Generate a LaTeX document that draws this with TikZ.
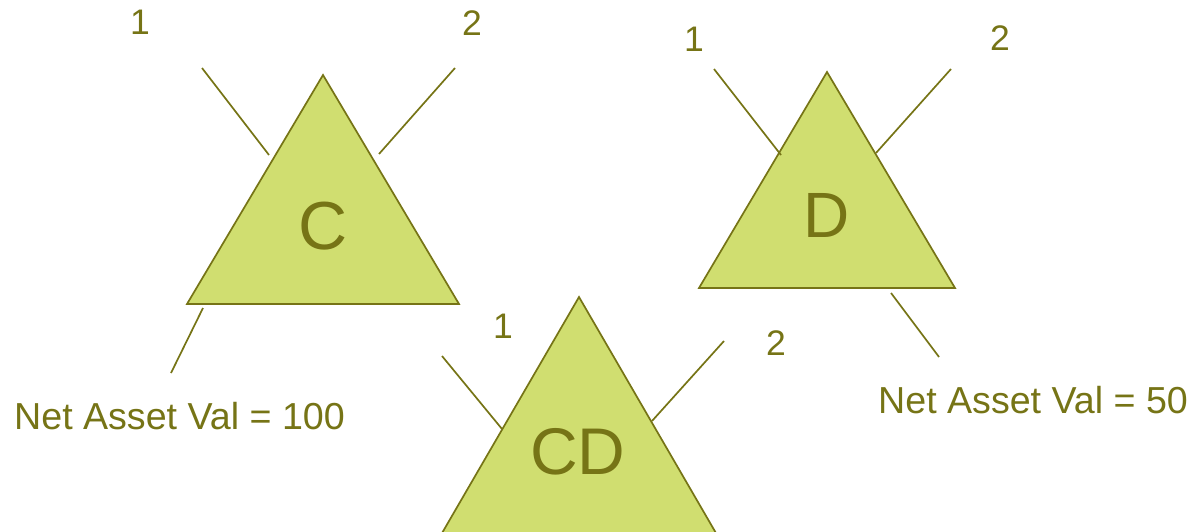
\documentclass[tikz,border=0pt]{standalone}
\usepackage{fontspec}
\setmainfont{Liberation Sans}
\definecolor{olive}{RGB}{118,116,22}
\definecolor{leaf}{RGB}{208,222,112}
\tikzset{
  tribox/.style={draw=olive, fill=leaf, line width=1.7pt, line join=miter},
  legline/.style={draw=olive, line width=1.7pt},
  portlbl/.style={text=olive, font=\fontsize{35.5}{40}\selectfont, inner sep=0pt},
  biglbl/.style={text=olive, inner sep=0pt},
  valtext/.style={text=olive, font=\fontsize{37.6}{42}\selectfont, inner sep=0pt, anchor=base west},
}
\begin{document}
\begin{tikzpicture}[x=1pt, y=-1pt]
\useasboundingbox (0,0) rectangle (1194,532);

% triangle C
\coordinate (Ca) at (323,75);
\coordinate (Cl) at (187,304);
\coordinate (Cr) at (459,304);
\draw[tribox] (Ca) -- (Cl) -- (Cr) -- cycle;
\node[biglbl, font=\fontsize{68}{72}\selectfont] (Cn) at (323,226) {C};
\coordinate (C1o) at (202,68);
\coordinate (C1i) at (269,155);
\coordinate (C2o) at (455,68);
\coordinate (C2i) at (379,154);
\coordinate (C3i) at (203,308);
\coordinate (C3o) at (171,373);
\draw[legline] (C1o) -- (C1i);
\draw[legline] (C2o) -- (C2i);
\draw[legline] (C3i) -- (C3o);
\node[portlbl] (C1) at (140,22) {1};
\node[portlbl] (C2) at (472,23) {2};
\node[valtext] (Cv) at (14,429) {Net Asset Val = 100};

% triangle D
\coordinate (Da) at (827,72);
\coordinate (Dl) at (699,288);
\coordinate (Dr) at (955,288);
\draw[tribox] (Da) -- (Dl) -- (Dr) -- cycle;
\node[biglbl, font=\fontsize{64}{68}\selectfont] (Dn) at (827,215) {D};
\coordinate (D1o) at (714,69);
\coordinate (D1i) at (781,155);
\coordinate (D2o) at (951,69);
\coordinate (D2i) at (876,153);
\coordinate (D3i) at (891,293);
\coordinate (D3o) at (939,357);
\draw[legline] (D1o) -- (D1i);
\draw[legline] (D2o) -- (D2i);
\draw[legline] (D3i) -- (D3o);
\node[portlbl] (D1) at (694,39) {1};
\node[portlbl] (D2) at (1000,38) {2};
\node[valtext] (Dv) at (878,413) {Net Asset Val = 50};

% triangle CD, its base runs off the bottom edge
\begin{scope}
\clip (0,0) rectangle (1194,532);
\coordinate (Ea) at (579,297);
\coordinate (El) at (438,540);
\coordinate (Er) at (720,540);
\draw[tribox] (Ea) -- (El) -- (Er) -- cycle;
\end{scope}
\node[biglbl, font=\fontsize{66}{70}\selectfont] (En) at (578,452) {CD};
\coordinate (E1o) at (442,356);
\coordinate (E1i) at (502,429);
\coordinate (E2o) at (724,341);
\coordinate (E2i) at (652,421);
\draw[legline] (E1o) -- (E1i);
\draw[legline] (E2o) -- (E2i);
\node[portlbl] (E1) at (503,326) {1};
\node[portlbl] (E2) at (776,343) {2};
\end{tikzpicture}
\end{document}
